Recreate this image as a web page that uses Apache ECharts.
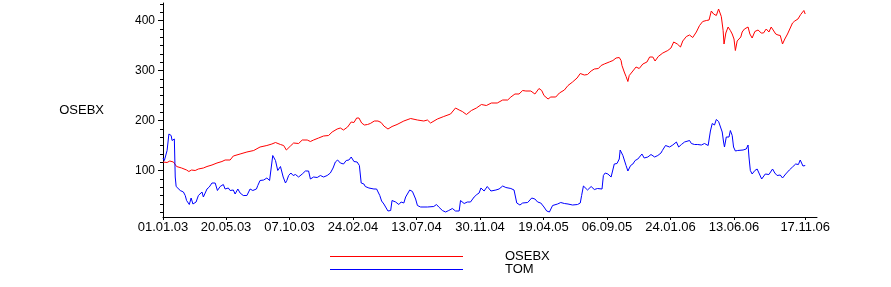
<!DOCTYPE html>
<html>
<head>
<meta charset="utf-8">
<script src="https://cdn.jsdelivr.net/npm/echarts@6/dist/echarts.min.js"></script>
<style>
html,body{margin:0;padding:0;background:#fff;}
#chart{width:891px;height:287px;}
</style>
</head>
<body>
<div id="chart"></div>
<script>
// Days counted from 01.01.2003
const startDateUTC = Date.UTC(2003, 0, 1);

const osebxDays = [0,2,9,15,23,30,41,52,57,63,71,78,89,97,108,119,130,137,148,155,170,185,200,214,229,240,248,259,266,272,281,288,299,307,318,325,332,343,354,365,373,384,391,398,407,415,421,427,432,438,444,451,457,466,474,481,487,496,505,516,531,546,561,575,583,590,605,619,634,645,653,660,669,680,691,702,713,724,737,749,760,767,776,785,793,800,811,820,829,835,840,849,855,866,874,885,893,903,913,920,929,936,944,951,960,966,973,977,984,992,999,1006,1010,1012,1017,1021,1025,1028,1036,1043,1050,1058,1067,1073,1080,1085,1092,1102,1113,1120,1126,1134,1141,1146,1154,1161,1168,1176,1183,1190,1198,1204,1209,1214,1220,1225,1229,1231,1235,1237,1241,1246,1251,1255,1259,1262,1266,1270,1274,1277,1282,1290,1294,1299,1305,1312,1319,1324,1330,1336,1341,1345,1351,1356,1361,1366,1371,1377,1382,1388,1393,1400,1406,1410,1413,1416];
const osebxValues = [117,117,116,119,117,108,105,101,98,101,100,103,105,108,111,115,118,121,121,129,133,137,140,147,150,153,156,152,150,141,149,155,154,161,161,158,161,165,169,170,177,183,185,181,187,197,196,205,205,195,191,192,194,199,199,196,189,183,188,192,199,204,201,199,201,195,203,208,213,225,221,218,212,220,225,232,230,235,235,241,241,247,253,253,260,259,259,253,264,260,250,243,247,247,255,261,270,277,285,294,291,292,299,303,304,310,313,317,317,320,325,326,320,310,297,288,278,290,299,307,304,313,317,327,327,319,328,335,340,345,357,353,347,359,368,371,366,377,390,398,400,401,419,413,410,423,425,408,380,353,375,387,380,373,363,340,359,355,367,377,383,387,373,365,378,381,375,375,383,377,387,390,373,371,370,353,363,373,383,395,399,403,412,415,420,413];

const tomDays = [0,3,9,13,18,20,23,25,27,29,33,38,45,49,52,58,62,66,69,73,78,82,86,89,97,102,108,115,120,126,133,137,144,148,155,159,165,170,177,185,192,198,206,209,214,222,229,235,239,242,248,253,259,262,265,270,273,277,282,287,292,299,307,314,321,325,332,340,347,354,362,369,375,380,385,391,398,404,410,415,421,428,433,437,443,446,454,457,465,471,474,478,482,487,491,496,502,505,513,520,525,531,535,539,544,550,553,557,561,568,583,597,603,608,616,623,630,638,645,653,656,664,671,678,686,692,697,701,708,715,723,734,741,749,756,767,774,778,780,787,793,804,813,820,826,833,840,846,852,859,870,877,885,893,903,914,920,923,927,936,944,951,958,968,971,975,981,988,992,995,1001,1006,1008,1014,1017,1021,1025,1031,1036,1041,1047,1050,1056,1061,1069,1076,1084,1091,1098,1101,1108,1117,1124,1132,1137,1143,1150,1154,1161,1165,1172,1179,1187,1194,1202,1205,1207,1211,1216,1220,1225,1229,1233,1236,1238,1242,1248,1251,1255,1258,1262,1267,1271,1279,1286,1290,1292,1295,1299,1305,1310,1314,1320,1328,1336,1344,1349,1354,1361,1366,1373,1381,1388,1395,1401,1405,1408,1411,1414,1416];
const tomValues = [125,120,140,173,170,160,157,163,87,68,69,60,57,50,40,32,45,33,29,37,50,47,57,47,63,67,75,75,60,68,72,63,65,60,61,53,63,55,50,50,63,60,63,70,80,81,85,80,78,130,120,100,108,107,87,75,80,90,95,90,92,87,93,99,99,83,87,86,90,87,90,95,105,117,121,115,113,120,121,127,118,117,110,75,73,68,65,68,63,63,60,50,39,33,34,19,20,40,37,32,37,35,47,48,61,58,57,43,30,27,27,28,32,27,20,17,20,24,19,19,40,34,37,37,47,52,55,65,59,68,59,61,63,69,66,64,61,61,35,31,35,36,45,43,37,35,27,19,17,30,33,36,34,33,31,32,35,50,69,61,68,62,64,63,90,95,93,87,84,113,114,123,141,130,127,110,99,110,113,120,123,122,133,125,127,132,127,130,135,140,150,147,151,157,147,152,157,160,160,154,152,152,151,154,150,152,179,194,191,202,198,199,177,157,147,167,167,180,170,147,139,140,137,141,143,151,127,100,93,100,103,95,83,93,92,103,95,90,91,85,93,101,107,113,112,121,117,109,112,110];

const xTickDays = [0,139,279,419,559,699,839,979,1119,1259,1416];
const yTickValues = [100,200,300,400];
const seriesNames = ['OSEBX','TOM'];
const yAxisTitle = 'OSEBX';

function pad(n){ return (n < 10 ? '0' : '') + n; }
function dayLabel(d){
  const t = new Date(startDateUTC + Math.round(d) * 86400000);
  return pad(t.getUTCDate()) + '.' + pad(t.getUTCMonth() + 1) + '.' + pad(t.getUTCFullYear() % 100);
}

const yMin = 7, yMax = 435;
const minorTicks = [];
for (let k = 1; k * 100 / 6 < yMax; k++) {
  if (k % 6 !== 0) minorTicks.push(k * 100 / 6);
}

const font = 'Liberation Sans, Arial, sans-serif';
const chart = echarts.init(document.getElementById('chart'), null, {renderer: 'canvas'});
chart.setOption({
  animation: false,
  backgroundColor: '#ffffff',
  grid: {left: 163, top: 3, width: 654, height: 214, containLabel: false},
  legend: {
    orient: 'vertical',
    left: 330, top: 250,
    padding: 0,
    itemGap: 0,
    itemWidth: 133,
    itemHeight: 1,
    icon: 'rect',
    selectedMode: false,
    textStyle: {fontFamily: font, fontSize: 13, color: '#000', lineHeight: 12, padding: [0,0,0,37]},
    data: seriesNames
  },
  xAxis: {
    type: 'value',
    min: 0, max: 1442,
    axisLine: {show: true, onZero: false, lineStyle: {color: '#000', width: 1}},
    axisTick: {show: true, length: 3, customValues: xTickDays, lineStyle: {color: '#000'}},
    axisLabel: {customValues: xTickDays, formatter: v => dayLabel(v), color: '#000', fontFamily: font, fontSize: 13, margin: 4},
    splitLine: {show: false}
  },
  yAxis: [{
    type: 'value',
    min: yMin, max: yMax,
    name: yAxisTitle,
    nameLocation: 'middle',
    nameRotate: 0,
    nameGap: 59,
    nameTextStyle: {fontFamily: font, fontSize: 13, color: '#000'},
    axisLine: {show: true, onZero: false, lineStyle: {color: '#000', width: 1}},
    axisTick: {show: true, length: 5, customValues: yTickValues, lineStyle: {color: '#000'}},
    axisLabel: {customValues: yTickValues, formatter: v => String(v), color: '#000', fontFamily: font, fontSize: 12, margin: 8},
    splitLine: {show: false}
  }, {
    type: 'value',
    position: 'left',
    min: yMin, max: yMax,
    axisLine: {show: false},
    axisTick: {show: true, length: 3, customValues: minorTicks, lineStyle: {color: '#000'}},
    axisLabel: {show: false},
    splitLine: {show: false}
  }],
  series: [{
    name: seriesNames[0],
    type: 'line',
    showSymbol: false,
    symbol: 'none',
    color: '#ff0000',
    lineStyle: {color: '#ff0000', width: 1},
    data: osebxDays.map((d, i) => [d, osebxValues[i]])
  }, {
    name: seriesNames[1],
    type: 'line',
    showSymbol: false,
    symbol: 'none',
    color: '#0000ff',
    lineStyle: {color: '#0000ff', width: 1},
    data: tomDays.map((d, i) => [d, tomValues[i]])
  }]
});
</script>
</body>
</html>
